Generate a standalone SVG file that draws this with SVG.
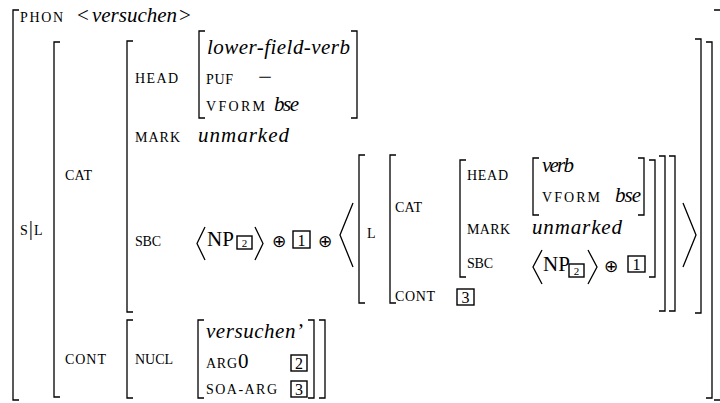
<svg xmlns="http://www.w3.org/2000/svg" width="720" height="403" viewBox="0 0 720 403">
<style>
.br{fill:none;stroke:#000;stroke-width:1.3}
.bx{fill:none;stroke:#000;stroke-width:1.4}
.sc{font-family:"Liberation Serif",serif;font-size:14px}
.it{font-family:"Liberation Serif",serif;font-size:21px;font-style:italic}
.rm{font-family:"Liberation Serif",serif;font-size:21px}
.op{font-family:"DejaVu Sans",sans-serif;font-size:17px;text-anchor:middle}
.bn{font-family:"Liberation Serif",serif;font-size:16px;text-anchor:middle}
.bs{font-family:"Liberation Serif",serif;font-size:11px;text-anchor:middle}
</style>
<rect width="720" height="403" fill="#fff"/>
<g id="brackets">
<path class="br" d="M19 10H13V400H19"/>
<path class="br" d="M714 10H720M714 400H720"/>
<path class="br" d="M60 42H54V397H60"/>
<path class="br" d="M706 42H712V398H706"/>
<path class="br" d="M133 41H127V312H133"/>
<path class="br" d="M695 39H701V313H695"/>
<path class="br" d="M205 31H199V118H205"/>
<path class="br" d="M351 31H357V118H351"/>
<path class="br" d="M133 320H127V398H133"/>
<path class="br" d="M319 320H325V398H319"/>
<path class="br" d="M204 320H198V398H204"/>
<path class="br" d="M308 320H314V398H308"/>
<path class="br" d="M365 155H359V303H365"/>
<path class="br" d="M669 156H675V311H669"/>
<path class="br" d="M396 155H390V303H396"/>
<path class="br" d="M659 156H665V311H659"/>
<path class="br" d="M466 160H460V277H466"/>
<path class="br" d="M649 160H655V277H649"/>
<path class="br" d="M539 158H533V215H539"/>
<path class="br" d="M638 158H644V215H638"/>
<path class="br" d="M205 227L197 243.5L205 260"/>
<path class="br" d="M255 227L263 243.5L255 260"/>
<path class="br" d="M353 203L340 235L353 267"/>
<path class="br" d="M683 203L696 235L683 267"/>
<path class="br" d="M542 250L533 267L542 284"/>
<path class="br" d="M588 250L597 267L588 284"/>
</g>
<g id="phon">
<text class="sc" x="20" y="22" textLength="43">PHON</text>
<text class="rm" x="77" y="22">&lt;</text>
<text class="it" x="92" y="22" textLength="85">versuchen</text>
<text class="rm" x="179" y="22">&gt;</text>
</g>
<g id="synsem">
<text class="sc" x="20" y="235">S<tspan class="rm" font-size="17" dx="1">|</tspan><tspan dx="1">L</tspan></text>
<text class="sc" x="65" y="180" textLength="27">CAT</text>
<text class="sc" x="135" y="83" textLength="43">HEAD</text>
<text class="it" x="207" y="54" textLength="143">lower-field-verb</text>
<text class="sc" x="206" y="84" textLength="27">PUF</text>
<text class="rm" x="258" y="84" textLength="14" lengthAdjust="spacingAndGlyphs">−</text>
<text class="sc" x="206" y="111" textLength="59">VFORM</text>
<text class="it" x="274" y="111" textLength="25">bse</text>
<text class="sc" x="135" y="142" textLength="45">MARK</text>
<text class="it" x="198" y="142" textLength="91">unmarked</text>
<text class="sc" x="135" y="246" textLength="26">SBC</text>
<text class="rm" x="207" y="246">NP</text>
<rect class="bx" x="237" y="236" width="15" height="13"/>
<text class="bs" x="244.5" y="246.5">2</text>
<text class="op" x="279" y="247">⊕</text>
<rect class="bx" x="293" y="231" width="17" height="17"/>
<text class="bn" x="301.5" y="245.5">1</text>
<text class="op" x="325" y="247">⊕</text>
<text class="sc" x="367" y="238">L</text>
<text class="sc" x="395" y="212" textLength="27">CAT</text>
<text class="sc" x="467" y="180" textLength="41">HEAD</text>
<text class="it" x="542" y="172" textLength="32">verb</text>
<text class="sc" x="542" y="202" textLength="58">VFORM</text>
<text class="it" x="615" y="202" textLength="26">bse</text>
<text class="sc" x="467" y="234" textLength="43">MARK</text>
<text class="it" x="532" y="234" textLength="90">unmarked</text>
<text class="sc" x="467" y="268" textLength="26">SBC</text>
<text class="rm" x="543" y="271">NP</text>
<rect class="bx" x="569" y="264" width="15" height="13"/>
<text class="bs" x="576.5" y="274.5">2</text>
<text class="op" x="611" y="272">⊕</text>
<rect class="bx" x="628" y="256" width="17" height="16"/>
<text class="bn" x="636.5" y="270">1</text>
<text class="sc" x="395" y="301" textLength="40">CONT</text>
<rect class="bx" x="457" y="289" width="17" height="16"/>
<text class="bn" x="465.5" y="303">3</text>
<text class="sc" x="65" y="364" textLength="41">CONT</text>
<text class="sc" x="135" y="364" textLength="38">NUCL</text>
<text class="it" x="206" y="338" textLength="97">versuchen’</text>
<text class="sc" x="206" y="368" textLength="31">ARG</text>
<text class="rm" x="238" y="368">0</text>
<rect class="bx" x="291" y="355" width="16" height="16"/>
<text class="bn" x="299" y="369">2</text>
<text class="sc" x="206" y="394" textLength="71">SOA-ARG</text>
<rect class="bx" x="291" y="381" width="16" height="16"/>
<text class="bn" x="299" y="395">3</text>
</g>
</svg>
